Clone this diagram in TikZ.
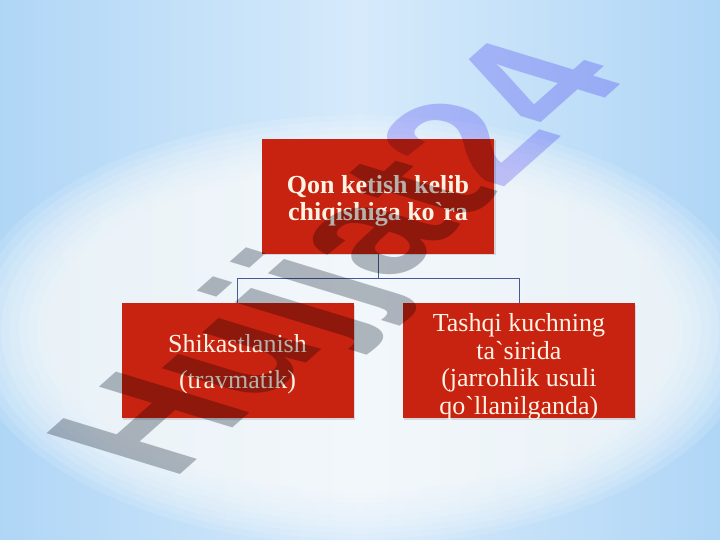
\documentclass[tikz,border=0pt]{standalone}
\usepackage{fontspec}
\setmainfont{Liberation Serif}
\newfontfamily\markfont{Liberation Sans}
\usepackage{tikz}
\usetikzlibrary{calc}
\usetikzlibrary{shadows}
\usetikzlibrary{positioning}

\definecolor{bgblue}{RGB}{176,214,246}
\definecolor{bglight}{RGB}{214,234,251}
\definecolor{boxred}{RGB}{200,34,16}
\definecolor{boxtext}{RGB}{255,244,228}
\definecolor{linkblue}{RGB}{72,90,150}
\definecolor{markgray}{RGB}{182,186,192}
\definecolor{markpurple}{RGB}{206,200,252}

% Lines of a box text, set a little lower than the middle.
\newcommand{\boxlines}[2]{\raisebox{-#1pt}[\height][\depth]{\begin{tabular}{@{}c@{}}#2\end{tabular}}}

\begin{document}
\begin{tikzpicture}[
		x=1pt,
		y=1pt,
		node distance=49pt
		]
		\tikzstyle{box}=[
			rectangle,
			fill=boxred,
			text=boxtext,
			inner sep=2pt,
			minimum width=232pt,
			minimum height=115pt,
			drop shadow={shadow xshift=1.5pt, shadow yshift=-1.5pt, opacity=0.25}
		]
		\tikzstyle{link}=[
			draw=linkblue,
			line width=0.8pt
		]
		\tikzstyle{watermark text}=[
			transform shape,
			inner sep=0pt,
			font=\markfont\bfseries\fontsize{100}{100}\selectfont
		]
		% Draw the background and its light oval.
			\useasboundingbox (0,0) rectangle (720,540);
			\shade[left color=bgblue, right color=bgblue, middle color=bglight] (0,0) rectangle (720,540);
			\foreach \r in {0, ..., 9}
				\fill[white, opacity=0.13] (360,210) ellipse ({395-9*\r} and {215-6*\r});
		% Draw the top box.
			\node[box, font=\bfseries\fontsize{26}{27.5}\selectfont] (origin) at (378,343.5)
				{\boxlines{5}{Qon ketish kelib\\chiqishiga ko\textasciigrave ra}};
		% Draw the two lower boxes.
			\node[box, font=\fontsize{26}{36}\selectfont, below=of origin, xshift=-140.5pt] (trauma)
				{\boxlines{2}{Shikastlanish\\(travmatik)}};
			\node[box, font=\fontsize{26}{27.5}\selectfont, right=of trauma] (surgery)
				{\boxlines{6.5}{Tashqi kuchning\\ta\textasciigrave sirida\\(jarrohlik usuli\\qo\textasciigrave llanilganda)}};
		% Connect the top box with the lower boxes.
			\foreach \target in {trauma, surgery}
				\draw[link] (origin.south) -- ++(0,-24.5) -| (\target.north);
		% Put the watermark over everything.
			\begin{scope}[shift={(172,58)}, cm={1.182,1.049,-1.941,0.593,(0,0)}, blend mode=multiply]
				\node[watermark text, anchor=base west] (watermark) at (0,0)
					{\textcolor{markgray}{Hujjat}\textcolor{markpurple}{24}};
			\end{scope}
\end{tikzpicture}
\end{document}
